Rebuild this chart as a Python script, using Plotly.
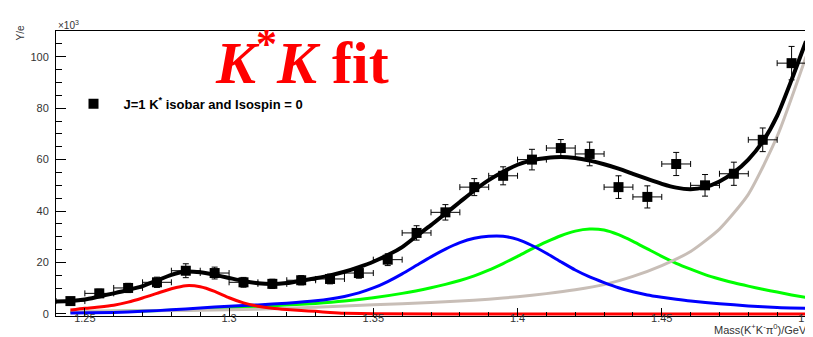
import plotly.graph_objects as go

# ---- data points ----
data_x = [1.245, 1.255, 1.265, 1.275, 1.285, 1.295, 1.305, 1.315, 1.325, 1.335,
          1.345, 1.355, 1.365, 1.375, 1.385, 1.395, 1.405, 1.415, 1.425, 1.435,
          1.445, 1.455, 1.465, 1.475, 1.485, 1.495]
data_y = [5.0, 8.0, 10.1, 12.3, 16.8, 15.9, 12.3, 11.7, 13.1, 13.6,
          15.9, 21.1, 31.5, 39.5, 49.3, 53.7, 60.0, 64.5, 62.2, 49.3,
          45.5, 58.3, 50.0, 54.5, 67.7, 97.5]
data_ey = [1.3, 1.6, 1.8, 2.0, 2.7, 2.3, 1.9, 1.8, 1.8, 1.9,
           2.0, 2.3, 2.8, 3.0, 3.3, 3.5, 4.0, 3.3, 4.6, 4.4,
           4.3, 4.5, 4.2, 4.5, 4.6, 6.5]
data_ex = [0.005] * len(data_x)

# ---- fit curves (sampled) ----
total_x = [1.240, 1.245, 1.250, 1.255, 1.260, 1.265, 1.270, 1.275, 1.280, 1.285,
           1.290, 1.295, 1.300, 1.305, 1.310, 1.315, 1.320, 1.325, 1.330, 1.335,
           1.340, 1.345, 1.350, 1.355, 1.360, 1.365, 1.370, 1.375, 1.380, 1.385,
           1.390, 1.395, 1.400, 1.405, 1.410, 1.415, 1.420, 1.425, 1.430, 1.435,
           1.440, 1.445, 1.450, 1.455, 1.460, 1.465, 1.470, 1.475, 1.480, 1.485,
           1.490, 1.495, 1.500]
total_y = [4.8, 5.0, 5.6, 6.8, 8.0, 9.3, 10.8, 13.0, 15.2, 16.5,
           16.2, 15.2, 14.0, 12.8, 11.9, 11.6, 12.0, 12.9, 13.9, 15.0,
           16.4, 18.2, 20.3, 22.9, 26.0, 30.3, 34.5, 39.0, 43.5, 48.0,
           52.0, 55.3, 58.0, 59.7, 60.6, 61.0, 60.6, 59.6, 58.2, 56.5,
           54.5, 52.5, 50.6, 49.1, 48.5, 49.3, 51.5, 55.0, 60.0, 67.0,
           77.0, 91.0, 106.0]

red_x = [1.245, 1.250, 1.255, 1.260, 1.265, 1.270, 1.275, 1.280, 1.285, 1.290,
         1.295, 1.300, 1.305, 1.310, 1.315, 1.320, 1.325, 1.330, 1.335, 1.340,
         1.350, 1.400, 1.450, 1.500]
red_y = [1.5, 2.2, 2.7, 3.4, 4.6, 6.2, 8.0, 9.8, 11.0, 10.6,
         8.8, 6.3, 4.3, 3.0, 2.2, 1.7, 1.3, 1.0, 0.6, 0.3,
         0.1, 0.0, 0.0, 0.0]

blue_x = [1.245, 1.260, 1.270, 1.280, 1.290, 1.300, 1.310, 1.320, 1.330, 1.335,
          1.340, 1.345, 1.350, 1.355, 1.360, 1.365, 1.370, 1.375, 1.380, 1.385,
          1.390, 1.395, 1.400, 1.405, 1.410, 1.415, 1.420, 1.425, 1.430, 1.435,
          1.440, 1.445, 1.450, 1.455, 1.460, 1.470, 1.480, 1.490, 1.500]
blue_y = [0.4, 0.6, 1.0, 1.6, 2.3, 3.0, 3.5, 4.2, 5.1, 5.8,
          6.8, 8.2, 10.1, 12.6, 15.6, 18.9, 22.2, 25.2, 27.7, 29.4,
          30.2, 30.2, 29.0, 26.6, 23.6, 20.3, 17.1, 14.4, 12.2, 10.2,
          8.6, 7.4, 6.5, 5.7, 5.0, 4.0, 3.1, 2.5, 2.2]

green_x = [1.245, 1.260, 1.280, 1.300, 1.310, 1.320, 1.330, 1.340, 1.350, 1.360,
           1.370, 1.375, 1.380, 1.385, 1.390, 1.395, 1.400, 1.405, 1.410, 1.415,
           1.420, 1.425, 1.430, 1.435, 1.440, 1.445, 1.450, 1.455, 1.460, 1.465,
           1.470, 1.475, 1.480, 1.485, 1.490, 1.495, 1.500]
green_y = [0.8, 1.0, 1.4, 2.2, 2.8, 3.5, 4.1, 5.0, 6.3, 8.0,
           10.2, 11.5, 13.0, 14.8, 17.0, 19.6, 22.4, 25.3, 28.0, 30.4,
           32.2, 33.0, 32.6, 30.8, 28.2, 25.3, 22.4, 19.7, 17.4, 15.3,
           13.6, 12.1, 10.8, 9.6, 8.5, 7.4, 6.4]

grey_x = [1.245, 1.270, 1.300, 1.320, 1.340, 1.360, 1.380, 1.390, 1.400, 1.410,
          1.420, 1.430, 1.440, 1.450, 1.460, 1.470, 1.480, 1.490, 1.500]
grey_y = [1.0, 1.2, 1.6, 2.2, 3.1, 4.0, 5.0, 5.7, 6.7, 7.9,
          9.4, 11.4, 14.6, 18.8, 24.3, 33.0, 46.5, 69.0, 100.0]

x_tickvals = [1.25, 1.3, 1.35, 1.4, 1.45, 1.5]
x_ticktext = ["1.25", "1.3", "1.35", "1.4", "1.45", "1.5"]
y_tickvals = [0, 20, 40, 60, 80, 100]
y_ticktext = ["0", "20", "40", "60", "80", "100"]

fig = go.Figure()

def curve(xs, ys, color, width):
    fig.add_trace(go.Scatter(x=xs, y=ys, mode="lines",
                             line=dict(color=color, width=width, shape="spline", smoothing=0.6),
                             showlegend=False, hoverinfo="skip"))

curve(green_x, green_y, "#00FF00", 3)
curve(grey_x, grey_y, "#C8BEB7", 3)
curve(blue_x, blue_y, "#0000FF", 3)
curve(red_x, red_y, "#FF0000", 3)
curve(total_x, total_y, "#000000", 4)

fig.add_trace(go.Scatter(
    x=data_x, y=data_y, mode="markers",
    marker=dict(symbol="square", size=10, color="black"),
    error_x=dict(type="data", array=data_ex, color="black", thickness=1, width=3),
    error_y=dict(type="data", array=data_ey, color="black", thickness=1, width=3),
    name="J=1 K<sup>*</sup> isobar and Isospin = 0",
    showlegend=True,
))

fig.update_layout(
    width=813, height=337,
    margin=dict(l=48, r=7, t=23, b=29),
    plot_bgcolor="white", paper_bgcolor="white",
    font=dict(family="Liberation Sans, Arial, sans-serif", color="#333333", size=11),
    showlegend=True,
    legend=dict(x=0.01, y=0.745, xanchor="left", yanchor="middle", itemwidth=50,
                bgcolor="rgba(0,0,0,0)", borderwidth=0,
                font=dict(family="Liberation Sans, Arial, sans-serif", size=13, color="black", weight="bold")),
    xaxis=dict(range=[1.24, 1.5], tickvals=x_tickvals, ticktext=x_ticktext,
               ticks="inside", ticklen=8, tickcolor="black", tickwidth=1,
               minor=dict(dtick=0.01, tick0=1.24, ticks="inside", ticklen=4, tickcolor="black"),
               showline=True, linecolor="black", linewidth=1, mirror=True,
               showgrid=False, zeroline=False, ticklabeloverflow="allow",
               ticklabelstandoff=-8,
               tickfont=dict(size=11, color="#333333")),
    yaxis=dict(range=[-0.8, 110], tickvals=y_tickvals, ticktext=y_ticktext,
               ticks="inside", ticklen=10, tickcolor="black", tickwidth=1,
               minor=dict(dtick=5, tick0=0, ticks="inside", ticklen=6, tickcolor="black"),
               showline=True, linecolor="black", linewidth=1, mirror=True,
               showgrid=False, zeroline=False, ticklabelstandoff=4,
               tickfont=dict(size=11, color="#333333")),
)

# title
fig.add_annotation(xref="paper", yref="paper", x=0.328, y=0.902, xanchor="center", yanchor="middle",
                   text="<b><i>K</i><sup>*</sup><i>K</i> fit</b>", showarrow=False,
                   font=dict(family="Liberation Serif, Times New Roman, serif", size=60, color="#FF0000"))
# x10^3
fig.add_annotation(xref="paper", yref="paper", x=0.0, y=1.0, xanchor="left", yanchor="bottom",
                   text="×10<sup>3</sup>", showarrow=False, yshift=-2,
                   font=dict(size=10, color="#333333"))
# y axis title
fig.add_annotation(xref="paper", yref="paper", x=0, y=1.025, xanchor="center", yanchor="top",
                   xshift=-36, text="Y/e", textangle=-90, showarrow=False,
                   font=dict(size=10, color="#333333"))
# x axis title
fig.add_annotation(xref="paper", yref="paper", x=1.0, y=-0.045, xanchor="right", yanchor="middle",
                   xshift=3,
                   text="Mass(K<sup>+</sup>K<sup>-</sup>π<sup>0</sup>)/GeV", showarrow=False,
                   font=dict(size=11, color="#333333"))

fig.write_html("out.html")
